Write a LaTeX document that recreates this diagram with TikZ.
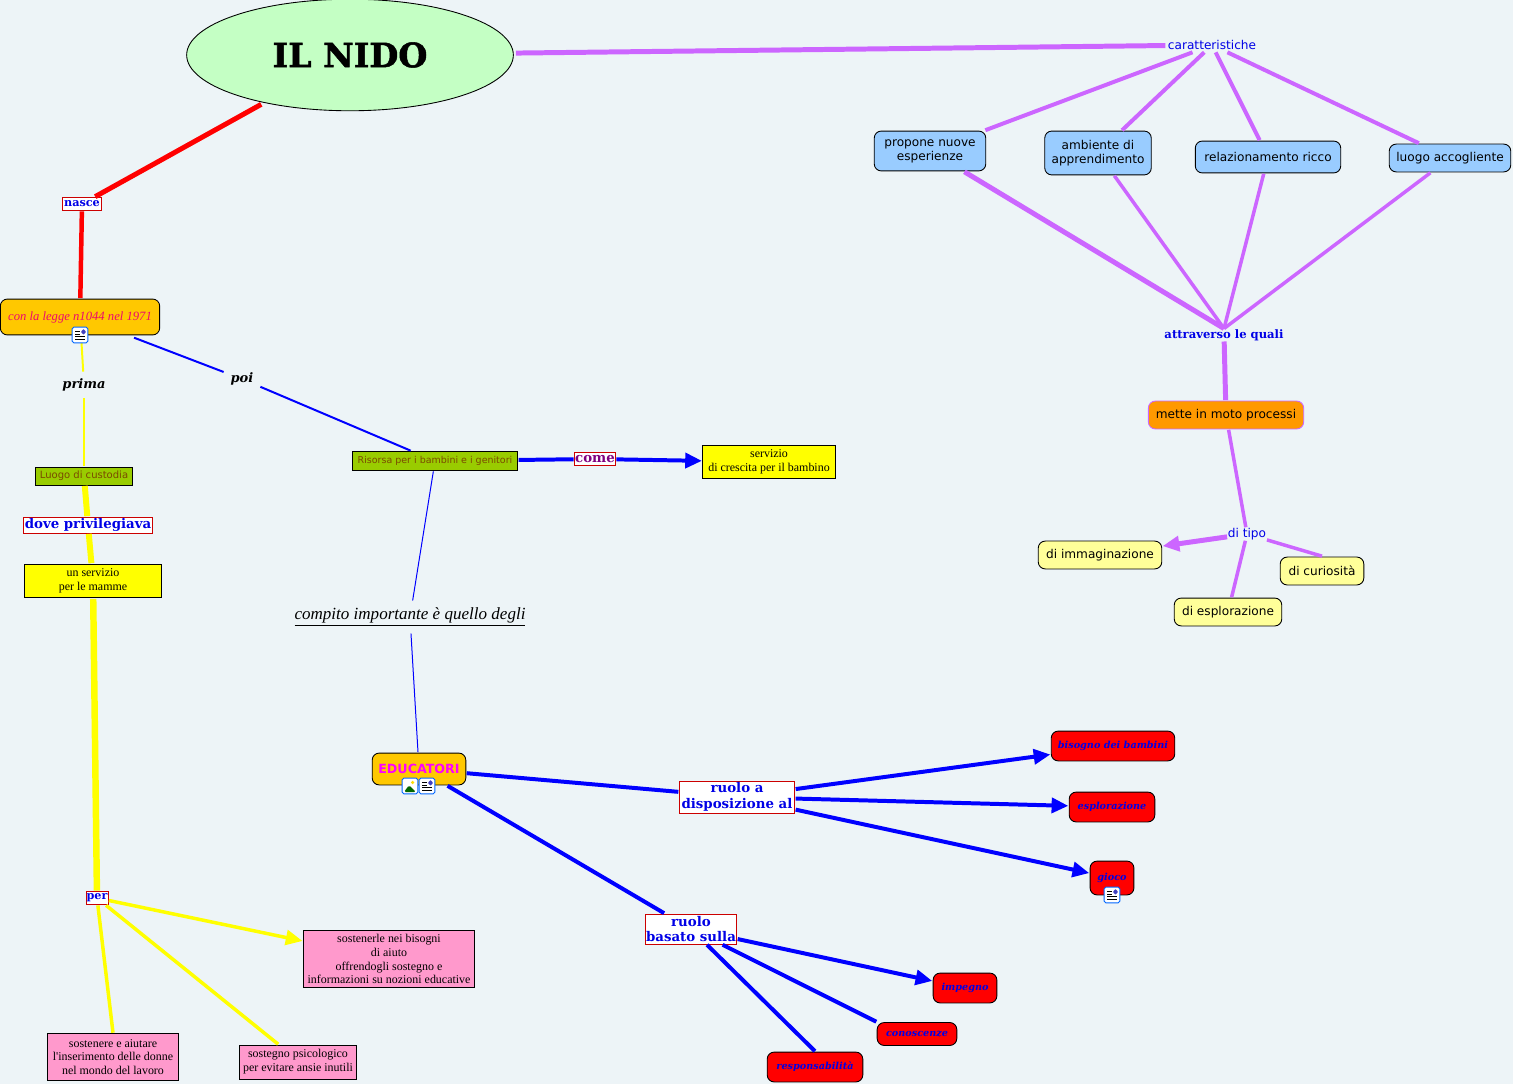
\documentclass[tikz,border=0pt]{standalone}
\usepackage{fontspec}
\setmainfont[Ligatures=TeXOff]{Liberation Serif}
\newfontfamily\verdana{DejaVu Sans}
\newfontfamily\bookman{DejaVu Serif}
\usepackage{tikz}
\usetikzlibrary{arrows.meta,positioning,calc,shapes.geometric}
\definecolor{sfondo}{HTML}{EDF4F7}
\definecolor{lilla}{HTML}{CC66FF}
\definecolor{azzurro}{HTML}{99CCFF}
\definecolor{verdino}{HTML}{C4FFC4}
\definecolor{crema}{HTML}{FFFF99}
\definecolor{rosa}{HTML}{FF99CC}
\definecolor{oliva}{HTML}{99CC00}
\definecolor{bruno}{HTML}{7A4A00}
\definecolor{ambra}{HTML}{FFC800}
\definecolor{blu}{HTML}{0000E6}
\definecolor{giallopuro}{HTML}{FFFF00}
\definecolor{fucsia}{HTML}{FF00FF}
\definecolor{arancio}{HTML}{FF9900}
\definecolor{bordino}{HTML}{CC0000}
\begin{document}
\begin{tikzpicture}[x=0.02cm,y=-0.02cm,
    sz/.style 2 args={minimum width=#1*0.5669pt, minimum height=#2*0.5669pt, inner sep=0pt, outer sep=0.5pt},
    tondo/.style={draw=black, line width=0.5pt, rounded corners=4pt, align=center},
    quadro/.style={draw=black, line width=0.5pt, align=center, font=\fontsize{6.8}{7.9}\selectfont},
    collega/.style={inner sep=0pt, outer sep=0.5pt, align=center, text=blu},
    frase/.style={draw=bordino, line width=0.5pt, fill=white, text=blu, align=center, font=\bookman\bfseries\fontsize{7.6}{9}\selectfont},
    chiaro/.style={tondo, fill=azzurro, font=\verdana\fontsize{6.9}{8}\selectfont},
    giallo/.style={tondo, fill=crema, font=\verdana\fontsize{6.9}{8}\selectfont},
    rosso/.style={tondo, fill=red, text=blu, font=\bookman\itshape\bfseries\fontsize{5.5}{7}\selectfont},
    scritta/.style={inner sep=1pt, outer sep=3pt, font=\bookman\itshape\bfseries\fontsize{7.4}{9}\selectfont},
    pagina/.style={draw=blue!60!cyan, line width=0.5pt, fill=white, rounded corners=1pt, minimum size=9pt, inner sep=0pt,
        path picture={\draw[black, line width=0.5pt] ([xshift=-2.8pt,yshift=-2.5pt]path picture bounding box.center) -- ++(5.6pt,0) ([xshift=-2.8pt,yshift=-1pt]path picture bounding box.center) -- ++(5.6pt,0) ([xshift=-2.8pt,yshift=0.5pt]path picture bounding box.center) -- ++(3pt,0) ([xshift=-2.8pt,yshift=2pt]path picture bounding box.center) -- ++(3pt,0);
        \fill[blue!50!gray] ([xshift=0.8pt,yshift=0.4pt]path picture bounding box.center) rectangle ++(2.4pt,2.8pt);}},
    foto/.style={draw=blue!60!cyan, line width=0.5pt, fill=white, rounded corners=1pt, minimum size=9pt, inner sep=0pt,
        path picture={\fill[green!40!black] ([xshift=-3.5pt,yshift=-3.5pt]path picture bounding box.center) -- ++(3pt,4pt) -- ++(4pt,-4pt) -- cycle;
        \fill[yellow!80!orange] ([xshift=1.5pt,yshift=2pt]path picture bounding box.center) circle (1pt);}},
    rossa/.style={line width=#1*0.5669pt, red},
    lil/.style={line width=#1*0.5669pt, lilla},
    gia/.style={line width=#1*0.5669pt, giallopuro},
    azz/.style={line width=#1*0.5669pt, blue},
    punta/.style={-{Triangle[length=9.5pt,width=8.5pt]}}
]
\useasboundingbox[fill=sfondo] (0,0) rectangle (1513,1084);

% titolo e ramo destro
\node[ellipse, draw=black, line width=0.5pt, fill=verdino, minimum width=328*0.5669pt, minimum height=112*0.5669pt, inner sep=0pt, outer sep=1.5pt, font=\bookman\bfseries\fontsize{19}{22}\selectfont\addfontfeature{FakeBold=1.5}] (nido) at (350,55) {IL NIDO};
\node[collega, outer sep=1.5pt, font=\verdana\fontsize{6.9}{8}\selectfont] (carat) at (1212,45) {caratteristiche};
\node[chiaro, sz={112}{40}] (propone) at (930,151) {propone nuove\\esperienze};
\node[chiaro, sz={107}{44}] (ambiente) at (1098,153) {ambiente di\\apprendimento};
\node[chiaro, sz={146}{32}] (relaz) at (1268,157) {relazionamento ricco};
\node[chiaro, sz={122}{28}] (accogl) at (1450,158) {luogo accogliente};
\node[collega, font=\bookman\bfseries\fontsize{6.6}{8}\selectfont] (attrav) at (1224,335) {attraverso le quali};
\node[tondo, draw=lilla, fill=arancio, sz={156}{28}, font=\verdana\fontsize{6.9}{8}\selectfont] (mette) at (1226,415) {mette in moto processi};
\node[collega, font=\verdana\fontsize{6.9}{8}\selectfont] (ditipo) at (1247,534) {di tipo};
\node[giallo, sz={124}{28}] (immag) at (1100,555) {di immaginazione};
\node[giallo, sz={84}{28}] (curios) at (1322,571) {di curiosità};
\node[giallo, sz={108}{28}] (esplor) at (1228,612) {di esplorazione};

\draw[lil=5] (nido) -- (carat);
\draw[lil=4] (carat) -- (propone);
\draw[lil=4] (carat) -- (ambiente);
\draw[lil=4] (carat) -- (relaz);
\draw[lil=4] (carat) -- (accogl);
\draw[lil=5] (propone) -- (attrav.north);
\draw[lil=3.5] (ambiente) -- (attrav.north);
\draw[lil=3.5] (relaz) -- (attrav.north);
\draw[lil=3.5] (accogl) -- (attrav.north);
\draw[lil=5] (attrav) -- (mette);
\draw[lil=3.5] (mette) -- (ditipo);
\draw[lil=5, punta] (ditipo) -- (immag);
\draw[lil=3.5] (ditipo) -- (curios.north);
\draw[lil=3.5] (ditipo) -- (esplor);

% ramo sinistro
\node[frase, sz={40}{13}, font=\bookman\bfseries\fontsize{6.4}{8}\selectfont] (nasce) at (82,204) {nasce};
\node[tondo, fill=ambra, text=magenta!70!red, sz={160}{36}, font=\itshape\fontsize{7.2}{9}\selectfont] (legge) at (80,317) {con la legge n1044 nel 1971};
\node[scritta] (prima) at (84,385) {prima};
\node[scritta] (poi) at (242,379) {poi};
\node[quadro, fill=oliva, text=bruno, sz={97}{18}, font=\verdana\fontsize{5.7}{7}\selectfont] (custodia) at (84,476) {Luogo di custodia};
\node[frase, sz={130}{16}] (dove) at (88,525) {dove privilegiava};
\node[quadro, fill=giallopuro, sz={138}{34}] (mamme) at (93,581) {un servizio\\per le mamme};
\node[frase, sz={22}{13}, font=\bookman\bfseries\fontsize{6.4}{8}\selectfont] (per) at (97,898) {per};
\node[quadro, fill=rosa, sz={172}{58}] (bisogni) at (389,959) {sostenerle nei bisogni\\di aiuto\\offrendogli sostegno  e\\informazioni su nozioni educative};
\node[quadro, fill=rosa, sz={132}{47}] (donne) at (113,1057) {sostenere e aiutare\\l'inserimento delle donne\\nel mondo del lavoro};
\node[quadro, fill=rosa, sz={118}{34}] (ansie) at (298,1062) {sostegno psicologico\\per evitare ansie inutili};

\draw[rossa=5] (nido) -- (nasce);
\draw[rossa=4.5] (nasce) -- (legge);
\draw[gia=2] (legge) -- (prima);
\draw[gia=1.5] (prima) -- (custodia);
\draw[gia=6] (custodia) -- (dove);
\draw[gia=6] (dove) -- (mamme);
\draw[gia=6.5] (mamme) -- (per);
\draw[gia=3.5, punta] (per) -- (bisogni);
\draw[gia=3.5] (per) -- (donne.north);
\draw[gia=3.5] (per) -- ([xshift=-11.3pt]ansie.north);

% ramo centrale
\node[quadro, fill=oliva, text=bruno, sz={166}{19}, font=\verdana\fontsize{5.4}{7}\selectfont] (risorsa) at (435,461) {Risorsa per i bambini e i genitori};
\node[frase, sz={41}{13}, text=violet, font=\bookman\bfseries\fontsize{7.6}{8}\selectfont] (come) at (595,459) {come};
\node[quadro, fill=giallopuro, sz={133}{33}] (crescita) at (769,462) {servizio\\ di crescita per il bambino};
\node[scritta, font=\itshape\fontsize{9.7}{13}\selectfont] (compito) at (410,617) {\underline{compito importante è quello degli}};
\node[tondo, fill=ambra, text=fucsia, sz={94}{32}, font=\verdana\bfseries\fontsize{7.2}{9}\selectfont] (educ) at (419,769) {EDUCATORI};
\node[frase, sz={116}{32}] (ruoloa) at (737,797) {ruolo a\\disposizione al};
\node[rosso, sz={124}{30}] (bisogno) at (1113,746) {bisogno dei bambini};
\node[rosso, sz={86}{30}] (esploraz) at (1112,807) {esplorazione};
\node[rosso, sz={44}{34}] (gioco) at (1112,878) {gioco};
\node[frase, sz={92}{30}] (ruolob) at (691,929) {ruolo\\basato sulla};
\node[rosso, sz={64}{30}] (impegno) at (965,988) {impegno};
\node[rosso, sz={80}{23}] (conosc) at (917,1034) {conoscenze};
\node[rosso, sz={96}{30}] (respons) at (815,1067) {responsabilità};

\draw[azz=2, shorten <=3pt] (legge) -- (poi);
\draw[azz=2] (poi) -- (risorsa);
\draw[azz=1] (risorsa) -- (compito);
\draw[azz=1] (compito) -- (educ);
\draw[azz=4] (risorsa) -- (come);
\draw[azz=4, punta] (come) -- (crescita);
\draw[azz=4] (educ) -- (ruoloa);
\draw[azz=4] (educ) -- (ruolob);
\draw[azz=4, punta] (ruoloa) -- (bisogno);
\draw[azz=4, punta] (ruoloa) -- (esploraz);
\draw[azz=4, punta] (ruoloa) -- (gioco);
\draw[azz=4, punta] (ruolob) -- (impegno);
\draw[azz=4] (ruolob) -- (conosc.north west);
\draw[azz=4] (ruolob) -- (respons.north);

% icone
\node[pagina] (ic1) at (80,335) {};
\node[foto] (ic2) at (410,786) {};
\node[pagina] (ic3) at (427,786) {};
\node[pagina] (ic4) at (1112,895) {};
\end{tikzpicture}
\end{document}
